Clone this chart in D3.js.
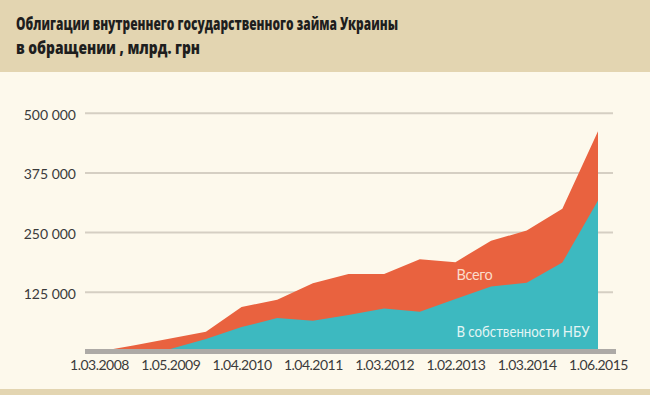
<!DOCTYPE html>
<html>
<head>
    <meta charset="utf-8">
    <title>Облигации внутреннего государственного займа Украины</title>
    <script src="https://cdn.jsdelivr.net/npm/d3@7"></script>
    <style>
        body { margin: 0; background: #fdf9ec; }
        svg { display: block; }
        .tick text { font-family: Lato, "Open Sans", sans-serif; fill: #3b3b3b; }
    </style>
</head>
<body>
<div id="chart"></div>
<script>
    // data
    var tickDates = ["1.03.2008", "1.05.2009", "1.04.2010", "1.04.2011",
                     "1.03.2012", "1.02.2013", "1.03.2014", "1.06.2015"];
    var totalVals = [0, 13000, 27000, 41000, 93000, 108000, 143000, 162000,
                     162000, 193000, 187000, 232000, 253000, 299000, 461000];
    var nbuVals   = [0, 0, 5000, 26000, 51000, 70000, 64000, 76000,
                     90000, 83000, 110000, 136000, 144000, 186000, 316000];
    var yTicks = [125000, 250000, 375000, 500000];
    var titleLines = ["Облигации внутреннего государственного займа Украины",
                      "в обращении , млрд. грн"];

    var W = 650, H = 395;
    var svg = d3.select("#chart").append("svg")
        .attr("width", W)
        .attr("height", H);

    // background bands
    svg.append("rect").attr("width", W).attr("height", H).attr("fill", "#fdf9ec");
    svg.append("rect").attr("width", W).attr("height", 72).attr("fill", "#e3d5b1");
    svg.append("rect").attr("y", 389).attr("width", W).attr("height", 6).attr("fill", "#e3d5b1");

    svg.selectAll(".title")
        .data(titleLines)
        .enter().append("text")
        .attr("class", "title")
        .attr("x", 16)
        .attr("y", function(d, i) { return 30 + i * 23.5; })
        .style("font-family", "'Open Sans', sans-serif")
        .style("font-weight", 800)
        .style("font-size", "17px")
        .style("fill", "#1e1e1e")
        .text(function(d) { return d; });
    // fit to the widths in the reference
    var titleWidths = [382, 184];
    svg.selectAll(".title").each(function(d, i) {
        d3.select(this).attr("textLength", titleWidths[i]).attr("lengthAdjust", "spacingAndGlyphs");
    });

    var x = d3.scalePoint().domain(d3.range(totalVals.length)).range([99, 598]);
    var y = d3.scaleLinear().domain([0, 500000]).range([351.4, 112.7]);
    var gridLeft = 85, gridRight = 613;

    // y axis + gridlines
    var fmt = function(d) { return d3.format(",")(d).replace(/,/g, " "); };
    var yAxis = svg.append("g")
        .attr("transform", "translate(" + gridRight + ",0)")
        .call(d3.axisLeft(y).tickValues(yTicks).tickSize(gridRight - gridLeft).tickFormat(fmt));
    yAxis.select(".domain").remove();
    yAxis.selectAll(".tick line").attr("stroke", "#d5cfc3").attr("stroke-width", 2);
    yAxis.selectAll(".tick text")
        .attr("x", -(gridRight - gridLeft) - 9)
        .attr("dy", "0.45em")
        .style("font-size", "14px");

    // areas: total behind, NBU share in front
    var areaTotal = d3.area()
        .x(function(d, i) { return x(i); })
        .y0(y(0))
        .y1(function(d) { return y(d); });

    svg.append("path")
        .datum(totalVals)
        .attr("fill", "#e9623f")
        .attr("d", areaTotal);

    svg.append("path")
        .datum(nbuVals)
        .attr("fill", "#3db9c0")
        .attr("d", areaTotal);

    // baseline band
    svg.append("line")
        .attr("x1", gridLeft).attr("x2", gridRight + 3)
        .attr("y1", y(0)).attr("y2", y(0))
        .attr("stroke", "#adaaa6")
        .attr("stroke-width", 5);

    // x axis labels, every other point
    var xAxis = svg.append("g")
        .attr("transform", "translate(0," + (y(0) + 3) + ")")
        .call(d3.axisBottom(x)
            .tickValues(d3.range(0, totalVals.length, 2))
            .tickSize(0)
            .tickFormat(function(d) { return tickDates[d / 2]; }));
    xAxis.select(".domain").remove();
    xAxis.selectAll(".tick text")
        .attr("dy", "0.9em")
        .style("font-size", "14px")
        .style("letter-spacing", "-0.5px");

    // series labels
    svg.append("text")
        .attr("x", x(10) + 1)
        .attr("y", y(150000))
        .style("font-family", "Lato, sans-serif")
        .style("font-size", "14.5px")
        .style("letter-spacing", "-0.3px")
        .style("fill", "#fbdccb")
        .text("Всего");

    svg.append("text")
        .attr("x", x(10) + 1)
        .attr("y", y(30000))
        .attr("textLength", 133)
        .attr("lengthAdjust", "spacingAndGlyphs")
        .style("font-family", "Lato, sans-serif")
        .style("font-size", "14.5px")
        .style("fill", "#e3f5f4")
        .text("В собственности НБУ");
</script>
</body>
</html>
